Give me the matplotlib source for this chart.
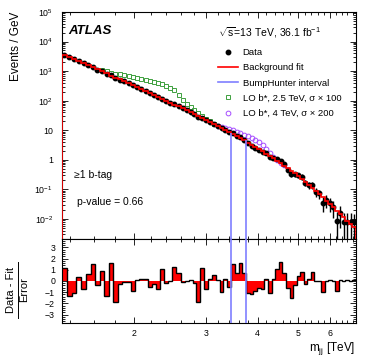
import matplotlib
matplotlib.use("Agg")
import matplotlib.pyplot as plt
import numpy as np
from matplotlib.lines import Line2D
from matplotlib.ticker import FixedLocator, FuncFormatter, LogLocator, MultipleLocator, NullFormatter

plt.rcParams["font.family"] = ["Liberation Sans", "DejaVu Sans"]
plt.rcParams["mathtext.fontset"] = "custom"
plt.rcParams["mathtext.rm"] = "Liberation Sans"
plt.rcParams["mathtext.it"] = "Liberation Sans:italic"
plt.rcParams["mathtext.bf"] = "Liberation Sans:bold"
plt.rcParams["mathtext.default"] = "regular"

# dijet mass binning [GeV]
BIN_EDGES_GEV = [
    1341, 1378, 1416, 1454, 1493, 1533, 1573, 1614, 1656, 1698, 1741, 1785, 1830,
    1875, 1921, 1968, 2016, 2065, 2114, 2164, 2215, 2267, 2320, 2374, 2429, 2485,
    2542, 2600, 2659, 2719, 2780, 2842, 2905, 2969, 3034, 3100, 3167, 3235, 3305,
    3376, 3448, 3521, 3596, 3672, 3749, 3827, 3907, 3988, 4070, 4154, 4239, 4326,
    4414, 4504, 4595, 4688, 4782, 4878, 4975, 5074, 5175, 5277, 5381, 5487, 5595,
    5705, 5817, 5931, 6047, 6165, 6285, 6407, 6531, 6658, 6787, 6918,
]

# background fit, events / GeV per bin
FIT = [
    3500, 2970, 2530, 2160, 1835, 1561, 1331, 1135, 971, 832,
    711, 608, 521, 448, 385, 330, 284, 244, 210, 181,
    156, 134.6, 116.1, 99.8, 85.9, 74.0, 63.7, 54.8, 47.1, 40.4,
    34.8, 30.0, 25.8, 22.0, 18.9, 16.2, 13.9, 11.9, 10.1, 8.63,
    7.36, 6.29, 5.36, 4.53, 3.83, 3.24, 2.75, 2.33, 1.96, 1.63,
    1.35, 1.12, 0.933, 0.778, 0.633, 0.516, 0.423, 0.345, 0.282, 0.227,
    0.178, 0.140, 0.111, 0.0871, 0.0686, 0.0532, 0.0411, 0.0317, 0.0245, 0.0189,
    0.0146, 0.0113, 0.00875, 0.00685, 0.00524,
]

# (data - fit) / error per bin
SIGNIFICANCE = [
    1.2, -1.35, -1.1, 0.4, -0.75, 0.65, 1.55, -0.35, 0.9, -1.35,
    1.65, -1.9, -0.3, -0.1, -0.1, -0.9, 0.1, 0.15, 0.15, -0.5,
    -0.3, -0.7, 1.05, -0.15, 0.0, 1.25, 0.7, -0.1, 0.0, 0.05,
    -0.2, -1.9, 1.2, -0.7, 0.15, 0.5, 0.05, -1.0, 0.2, -0.55,
    1.5, 0.75, 1.65, 0.75, -1.05, -1.2, -0.85, -0.6, -0.7, 0.15,
    -1.05, 0.2, 1.1, 1.7, 0.75, -0.6, -1.5, -0.35, 0.45, 0.8,
    -0.25, 0.2, 0.8, 0.02, 0.02, -0.95, 0.0, 0.05, 0.0, -0.9,
    0.12, 0.0, 0.1, 0.0, 0.05,
]

# (signal + fit) / fit for the two b* benchmarks
BSTAR_25_FIRST_BIN = 8
BSTAR_25_RATIO = [
    1.081, 1.169, 1.263, 1.365, 1.476, 1.595, 1.724, 1.864, 1.985, 2.144,
    2.301, 2.469, 2.645, 2.837, 3.045, 3.265, 3.24, 2.996, 2.447, 1.925,
    1.646, 1.464, 1.344, 1.234, 1.133, 1.081, 1.048, 1.024,
]
BSTAR_40_FIRST_BIN = 36
BSTAR_40_RATIO = [
    1.04, 1.098, 1.187, 1.283, 1.365, 1.431, 1.499, 1.571, 1.646, 1.711,
    1.751, 1.725, 1.596, 1.419, 1.243, 1.124, 1.064, 1.032, 1.016,
]

BUMPHUNTER_GEV = [3448, 3749]

X_TICKS = [2, 3, 4, 5, 6]
Y_TICKS = [1e-2, 1e-1, 1, 10, 1e2, 1e3, 1e4, 1e5]
PULL_TICKS = [-3, -2, -1, 0, 1, 2, 3]

BLUE = "#7f7fff"
GREEN = "#3fa03f"
PURPLE = "#a64dff"


def log_label(v, _pos):
    if np.isclose(v, 1):
        return "1"
    if np.isclose(v, 10):
        return "10"
    return r"$10^{%d}$" % int(round(np.log10(v)))


def style_axis(ax):
    ax.tick_params(which="both", direction="in", top=True, right=True, width=0.6, labelsize=6.3)
    ax.tick_params(which="major", length=4.5)
    ax.tick_params(which="minor", length=2.5)
    for sp in ax.spines.values():
        sp.set_linewidth(0.8)


def main():
    edges_gev = np.array(BIN_EDGES_GEV, dtype=float)
    edges = edges_gev / 1000.0
    width = np.diff(edges_gev)
    centers = np.sqrt(edges[:-1] * edges[1:])
    fit = np.array(FIT)
    sig = np.array(SIGNIFICANCE)

    expected = fit * width
    counts = np.round(expected + sig * np.sqrt(expected))
    data = counts / width
    err = np.sqrt(counts) / width
    has = counts > 0

    fig = plt.figure(figsize=(3.74, 3.59), dpi=100)
    ax = fig.add_axes([0.1658, 0.3343, 0.7853, 0.6323])
    ax2 = fig.add_axes([0.1658, 0.1003, 0.7853, 0.234], sharex=ax)

    ymin, ymax = 2.1e-3, 1e5

    # signal + background markers
    i0 = BSTAR_25_FIRST_BIN
    g = slice(i0, i0 + len(BSTAR_25_RATIO))
    ax.plot(centers[g], fit[g] * np.array(BSTAR_25_RATIO), ls="none", marker="s", ms=3.0,
            mfc="none", mec=GREEN, mew=0.7, zorder=2)
    i0 = BSTAR_40_FIRST_BIN
    p = slice(i0, i0 + len(BSTAR_40_RATIO))
    ax.plot(centers[p], fit[p] * np.array(BSTAR_40_RATIO), ls="none", marker="o", ms=3.4,
            mfc="none", mec=PURPLE, mew=0.7, zorder=2)

    lower = np.minimum(err, data - ymin * 0.5)
    ax.errorbar(centers[has], data[has], yerr=[lower[has], err[has]], fmt="o", ms=3.2,
                color="black", elinewidth=1.0, capsize=0, zorder=3)
    ax.stairs(fit, edges, color="red", lw=1.2, zorder=4)

    lo_i = BIN_EDGES_GEV.index(BUMPHUNTER_GEV[0])
    hi_i = BIN_EDGES_GEV.index(BUMPHUNTER_GEV[1])
    bh = [BUMPHUNTER_GEV[0] / 1000.0, BUMPHUNTER_GEV[1] / 1000.0]
    ax.vlines(bh, ymin, [data[lo_i], data[hi_i - 1]], color=BLUE, lw=1.2, zorder=5)

    ax.set_xscale("log")
    ax.set_yscale("log")
    ax.set_xlim(edges[0], edges[-1])
    ax.set_ylim(ymin, ymax)
    ax.yaxis.set_major_locator(FixedLocator(Y_TICKS))
    ax.yaxis.set_minor_locator(LogLocator(base=10, subs=np.arange(2, 10), numticks=20))
    ax.yaxis.set_major_formatter(FuncFormatter(log_label))
    ax.yaxis.set_minor_formatter(NullFormatter())
    style_axis(ax)
    ax.tick_params(axis="y", pad=6.5)
    ax.tick_params(axis="x", labelbottom=False)
    ax.set_ylabel("Events / GeV", fontsize=8.5, loc="top")
    ax.yaxis.set_label_coords(-0.135, 1.0)

    ax.text(0.02, 0.916, "ATLAS", transform=ax.transAxes, fontsize=9.5, fontweight="bold",
            fontstyle="italic", va="center")
    ax.text(0.531, 0.909, r"$\sqrt{s}$=13 TeV, 36.1 fb$^{-1}$", transform=ax.transAxes,
            fontsize=7.5, va="center")
    ax.text(0.041, 0.282, "≥1 b-tag", transform=ax.transAxes, fontsize=7.5, va="center")
    ax.text(0.051, 0.164, "p-value = 0.66", transform=ax.transAxes, fontsize=7.5, va="center")

    handles = [
        Line2D([], [], ls="none", marker="o", ms=3.2, color="black"),
        Line2D([], [], color="red", lw=1.2),
        Line2D([], [], color=BLUE, lw=1.2),
        Line2D([], [], ls="none", marker="s", ms=3.0, mfc="none", mec=GREEN, mew=0.7),
        Line2D([], [], ls="none", marker="o", ms=3.4, mfc="none", mec=PURPLE, mew=0.7),
    ]
    labels = ["Data", "Background fit", "BumpHunter interval",
              "LO b*, 2.5 TeV, σ × 100", "LO b*, 4 TeV, σ × 200"]
    ax.legend(handles, labels, loc="upper left", bbox_to_anchor=(0.531, 0.84), frameon=False,
              fontsize=6.8, handlelength=2.1, handletextpad=0.5, labelspacing=0.65,
              borderpad=0, borderaxespad=0)

    # lower panel
    ax2.stairs(sig, edges, baseline=0, fill=True, color="red", lw=0, zorder=2)
    ax2.stairs(sig, edges, baseline=None, color="black", lw=1.0, zorder=3)
    for x in bh:
        ax2.axvline(x, color=BLUE, lw=1.2, zorder=5)
    ax2.set_ylim(-3.75, 3.75)
    ax2.yaxis.set_major_locator(FixedLocator(PULL_TICKS))
    ax2.yaxis.set_minor_locator(MultipleLocator(0.2))
    ax2.xaxis.set_major_locator(FixedLocator(X_TICKS))
    ax2.xaxis.set_major_formatter(FuncFormatter(lambda v, _p: "%d" % v))
    ax2.xaxis.set_minor_locator(FixedLocator(np.arange(1.4, 6.9, 0.2)))
    ax2.xaxis.set_minor_formatter(NullFormatter())
    style_axis(ax2)
    ax2.tick_params(axis="y", pad=5)
    ax2.tick_params(axis="x", pad=4.5)
    ax2.set_xlabel(r"m$_{\rm jj}$ [TeV]", fontsize=8.5, loc="right")
    ax2.xaxis.set_label_coords(1.0, -0.2)

    # fraction label of the pull panel
    fig.text(11 / 374, 1 - 290 / 359, "Data - Fit", rotation=90, fontsize=8,
             ha="center", va="center")
    fig.text(24 / 374, 1 - 290 / 359, "Error", rotation=90, fontsize=8,
             ha="center", va="center")
    fig.add_artist(Line2D([17.5 / 374, 17.5 / 374], [1 - 262 / 359, 1 - 318 / 359],
                          color="black", lw=0.7))

    fig.savefig("out.png", dpi=100)
    plt.close(fig)


if __name__ == "__main__":
    main()
